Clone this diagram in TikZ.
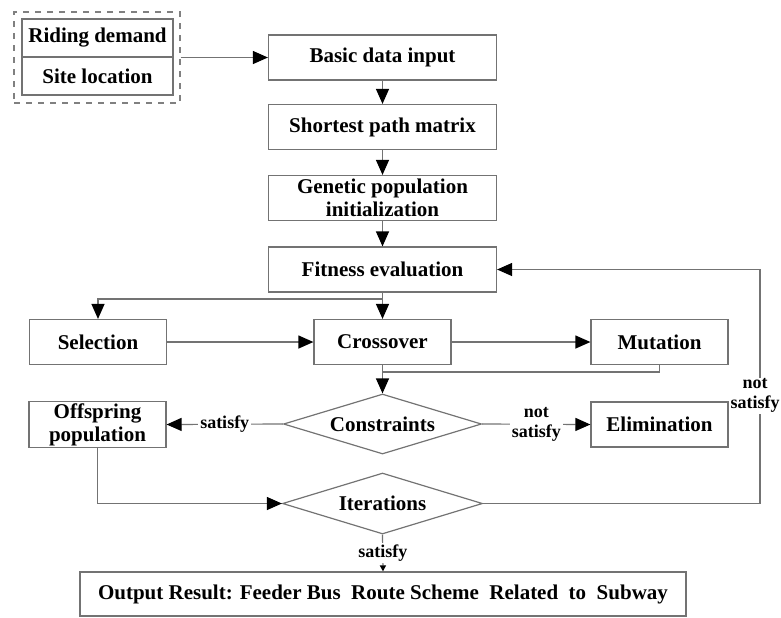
\documentclass[tikz,border=0pt]{standalone}
\usepackage{fontspec}
\setmainfont{Liberation Serif}
\usetikzlibrary{arrows.meta,shapes.geometric}

\begin{document}
\begin{tikzpicture}[
  x=0.5pt, y=-0.5pt,
  line/.style={draw=black!55, line width=0.6pt},
  flow/.style={line, -{Triangle[length=7.5pt, width=6.5pt, black]}},
  small flow/.style={line, -{Triangle[length=3pt, width=3pt, black]}},
  box/.style={draw=black!55, line width=0.6pt, inner sep=1pt, align=center,
    minimum width=114pt, minimum height=22.5pt, font=\bfseries\fontsize{10.5}{11.5}\selectfont},
  step box/.style={box, minimum width=68.5pt},
  cell/.style={box, minimum width=75.5pt, minimum height=19pt},
  decision/.style={diamond, aspect=3.3, draw=black!55, line width=0.6pt, inner sep=0pt,
    minimum width=99pt, minimum height=30pt, font=\bfseries\fontsize{10.5}{11.5}\selectfont},
  lbl/.style={fill=white, inner sep=1pt, align=center, font=\bfseries\fontsize{9}{10}\selectfont}
]
  % pixel grid of the reference: 781 x 617
  \useasboundingbox (0,0) rectangle (781,617);

  % input data
  \node[draw=black!50, dashed, line width=0.6pt, minimum width=83pt, minimum height=45.5pt] (data) at (97,57.5) {};
  \node[cell] (riding) at (97.5,38) {Riding demand};
  \node[cell] (site) at (97.5,76) {Site location};

  % main column
  \node[box] (basic) at (382.5,57.5) {Basic data input};
  \node[box] (shortest) at (382.5,127) {Shortest path matrix};
  \node[box] (genetic) at (382.5,198) {Genetic population\\initialization};
  \node[box] (fitness) at (382.5,269.5) {Fitness evaluation};

  \node[step box] (selection) at (98,342) {Selection};
  \node[step box] (crossover) at (382.5,342) {Crossover};
  \node[step box] (mutation) at (659.5,342) {Mutation};

  \node[decision] (constraints) at (382.5,424) {Constraints};
  \node[step box] (offspring) at (97.5,424.5) {Offspring\\population};
  \node[step box] (elimination) at (659.5,424.5) {Elimination};

  \node[decision, minimum width=100pt, minimum height=30.5pt] (iterations) at (382.5,503.5) {Iterations};
  \node[box, minimum width=303pt, minimum height=22pt] (output) at (383,594)
    {Output Result: Feeder Bus\ \ Route Scheme\ \ Related\ \ to\ \ Subway};

  \coordinate (split) at (382.5,299);
  \coordinate (merge) at (382.5,372);
  \coordinate (loop) at (760,503.5);

  % connectors
  \draw[flow] (data.east) -- (basic.west);
  \draw[flow] (basic) -- (shortest);
  \draw[flow] (shortest) -- (genetic);
  \draw[flow] (genetic) -- (fitness);

  \draw[line] (fitness.south) -- (split);
  \draw[flow] (split) -| (selection.north);
  \draw[flow] (split) -- (crossover.north);
  \draw[flow] (selection) -- (crossover);
  \draw[flow] (crossover) -- (mutation);

  \draw[line] (mutation.south) |- (merge);
  \draw[line] (crossover.south) -- (merge);
  \draw[flow] (merge) -- (constraints.north);

  \draw[flow] (constraints.west) -- node[lbl] {satisfy} (offspring.east);
  \draw[flow] (constraints.east) -- node[lbl] {not\\satisfy} (elimination.west);

  \draw[flow] (offspring.south) |- (iterations.west);
  \draw[flow] (iterations.east) -- (loop) |- node[lbl, pos=0.23, xshift=-2.5pt, inner sep=0.5pt] {not\\satisfy} (fitness.east);
  \draw[small flow] (iterations.south) -- node[lbl] {satisfy} (output.north);
\end{tikzpicture}
\end{document}
